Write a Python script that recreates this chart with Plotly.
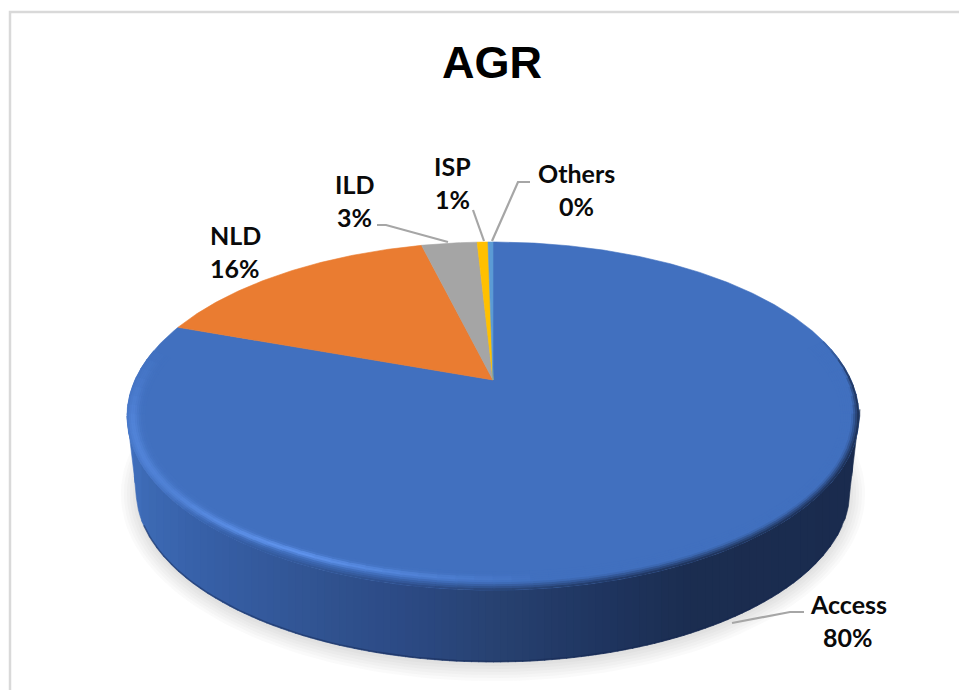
import numpy as np
import plotly.graph_objects as go

# ── data ─────────────────────────────────────────────────────────────
CATEGORIES = ["Access", "NLD", "ILD", "ISP", "Others"]
SHARES = [80.49, 15.66, 3.00, 0.58, 0.27]
SLICE_COLORS = ["#4170BF", "#EA7C31", "#A5A5A5", "#FFC000", "#5B9BD5"]

# ── label layout (centre x, first line y) and leader line paths ──────
LABEL_POS = {"Access": (848, 604), "NLD": (235, 235), "ILD": (354, 184),
             "ISP": (452, 166), "Others": (576, 173)}
LINE_GAP = 33
LEADERS = [
    "M 804 612 L 790 612 L 732 623",
    "M 377 225 L 386 225 L 448 242",
    "M 473 210 L 484 241",
    "M 530 182 L 518 182 L 492 241",
]

# ── disc geometry in page pixels ─────────────────────────────────────
CX, CY = 493, 416        # centre of the top ellipse
RX, RY = 366, 174
PIVOT_UP = 36            # the slices meet this far above the ellipse centre
BOTTOM_CY, BOTTOM_RX, BOTTOM_RY = 490, 357, 172
WALL_STOPS = [(127, "#4170BF"), (150, "#3C69B3"), (200, "#3760A8"), (330, "#30528F"),
              (400, "#2C4A85"), (500, "#274170"), (600, "#1F3560"), (690, "#1B2D50"), (859, "#1A2B4E")]
TOP_BLUE = "#4170BF"
BRIGHT = "#5F93EC"


def hex_rgb(c):
    return np.array([int(c[i:i + 2], 16) for i in (1, 3, 5)], dtype=float)


def mix(a, b, t):
    t = min(max(t, 0.0), 1.0)
    r, g, bl = a + (b - a) * t
    return f"rgb({r:.0f},{g:.0f},{bl:.0f})"


def wall_rgb(x):
    xs = [s[0] for s in WALL_STOPS]
    cols = np.array([hex_rgb(s[1]) for s in WALL_STOPS])
    return np.array([np.interp(x, xs, cols[:, i]) for i in range(3)])


def disc_point(angle_deg, radius=1.0):
    """Clockwise angle from 12 o'clock on the disc, through the tilted view."""
    a = np.radians(angle_deg)
    u, v = radius * np.sin(a), radius * np.cos(a)
    c = PIVOT_UP / RY
    k = RX * np.sqrt(1 - c * c)
    den = 1 + c * v
    return CX + k * u / den, CY - (RY * v + PIVOT_UP) / den


fig = go.Figure()


def add_fill(xs, ys, color):
    fig.add_trace(go.Scatter(x=list(xs), y=list(ys), mode="lines", fill="toself", fillcolor=color,
                             line=dict(color=color, width=0.6), hoverinfo="skip", showlegend=False))


# soft shadow under the disc
theta = np.linspace(0, 2 * np.pi, 200)
for grow in (15, 12, 9, 6, 3, 0):
    add_fill(CX + (BOTTOM_RX + grow) * np.cos(theta), BOTTOM_CY + 4 + (BOTTOM_RY + grow) * np.sin(theta),
             "rgba(0,0,0,0.021)")


# side wall, as narrow strips shaded from left to right
def top_edge(x):
    return CY + RY * np.sqrt(np.clip(1 - ((x - CX) / RX) ** 2, 0, 1))


def bottom_edge(x):
    dx = abs(x - CX)
    if dx >= BOTTOM_RX:
        return CY + (RX - dx) / (RX - BOTTOM_RX) * (BOTTOM_CY - CY)
    return BOTTOM_CY + BOTTOM_RY * np.sqrt(1 - (dx / BOTTOM_RX) ** 2)


edges = np.linspace(CX - RX, CX + RX, 101)
for x0, x1 in zip(edges[:-1], edges[1:]):
    xs = np.linspace(x0, x1 + 0.8, 5)
    r, g, b = wall_rgb((x0 + x1) / 2)
    add_fill(list(xs) + list(xs[::-1]),
             [top_edge(x) for x in xs] + [bottom_edge(x) for x in xs[::-1]],
             f"rgb({r:.0f},{g:.0f},{b:.0f})")

# darker line along the foot of the wall
foot = np.radians(np.linspace(12, 168, 120))
fig.add_trace(go.Scatter(x=CX + BOTTOM_RX * np.cos(foot), y=BOTTOM_CY + BOTTOM_RY * np.sin(foot) - 0.5,
                         mode="lines", line=dict(color="rgba(20,38,80,0.45)", width=1.6),
                         hoverinfo="skip", showlegend=False))

# top face: slices run clockwise from 12 o'clock, sized from SHARES
total = sum(SHARES)
pivot = disc_point(0, 0.0)
start = 0.0
for name, share, color in zip(CATEGORIES, SHARES, SLICE_COLORS):
    sweep = share / total * 360
    angles = np.linspace(start, start + sweep, max(4, int(sweep * 2)))
    pts = [disc_point(a) for a in angles]
    add_fill([pivot[0]] + [p[0] for p in pts] + [pivot[0]],
             [pivot[1]] + [p[1] for p in pts] + [pivot[1]], color)
    start += sweep

# bevel round the front of the top face
top_rgb, bright_rgb = hex_rgb(TOP_BLUE), hex_rgb(BRIGHT)
seg_edges = np.linspace(158, 385, 76)
for inset in np.arange(1, 19, 2.0):
    for t0, t1 in zip(seg_edges[:-1], seg_edges[1:]):
        ts = np.radians(np.linspace(t0, t1 + 0.4, 4))
        xs = CX + (RX - inset) * np.cos(ts)
        ys = CY - (RY - inset) * np.sin(ts)
        mid = (t0 + t1) / 2
        xm = CX + RX * np.cos(np.radians(mid))
        # highlight strongest lower left, gone by the middle of the front
        h = np.clip((mid - 158) / 24, 0, 1) * np.clip((278 - mid) / 40, 0, 1)
        # band is broad on the left side and tight along the front
        ramp = np.clip((mid - 205) / 30, 0, 1)
        centre = 6 + ramp * 5.5
        width = 6 - ramp * 3
        glow = np.exp(-((inset - centre) / width) ** 2) * h
        base = top_rgb + (bright_rgb - top_rgb) * glow * (0.55 + 0.45 * ramp)
        # lip blends into the wall colour, thinning out up the right side
        lip = 8 * np.clip((385 - mid) / 25, 0.15, 1)
        edge = np.clip((mid - 195) / 30, 0, 1) * np.clip(1 - inset / lip, 0, 1)
        color = mix(base, wall_rgb(xm), edge)
        fig.add_trace(go.Scatter(x=xs, y=ys, mode="lines", line=dict(color=color, width=2.5),
                                 hoverinfo="skip", showlegend=False))

# chart frame and leader lines
shapes = [dict(type="rect", x0=10, y0=12, x1=1000, y1=1000, line=dict(color="#D9D9D9", width=2.5))]
for path in LEADERS:
    shapes.append(dict(type="path", path=path, line=dict(color="#A6A6A6", width=2.2)))

annotations = []
for name, share in zip(CATEGORIES, SHARES):
    lx, ly = LABEL_POS[name]
    for i, text in enumerate((name, f"{share:.0f}%")):
        annotations.append(dict(x=lx, y=ly + i * LINE_GAP, text=text, showarrow=False,
                                xanchor="center", yanchor="middle",
                                font=dict(family="Lato", size=25, color="#0A0A0A", weight="bold")))

fig.update_layout(
    width=959, height=690,
    margin=dict(l=0, r=0, t=0, b=0),
    paper_bgcolor="white", plot_bgcolor="white",
    title=dict(text="<b>AGR</b>", x=492 / 959, xanchor="center", y=1 - 62 / 690, yanchor="middle",
               font=dict(family="Liberation Sans", size=45, color="#000000")),
    xaxis=dict(range=[0, 959], visible=False, fixedrange=True),
    yaxis=dict(range=[690, 0], visible=False, fixedrange=True),
    showlegend=False,
    shapes=shapes,
    annotations=annotations,
)

# the page's default body margin would push the chart 8px off
fig.write_html("out.html", config=dict(displayModeBar=False),
               post_script="document.body.style.margin='0';")
